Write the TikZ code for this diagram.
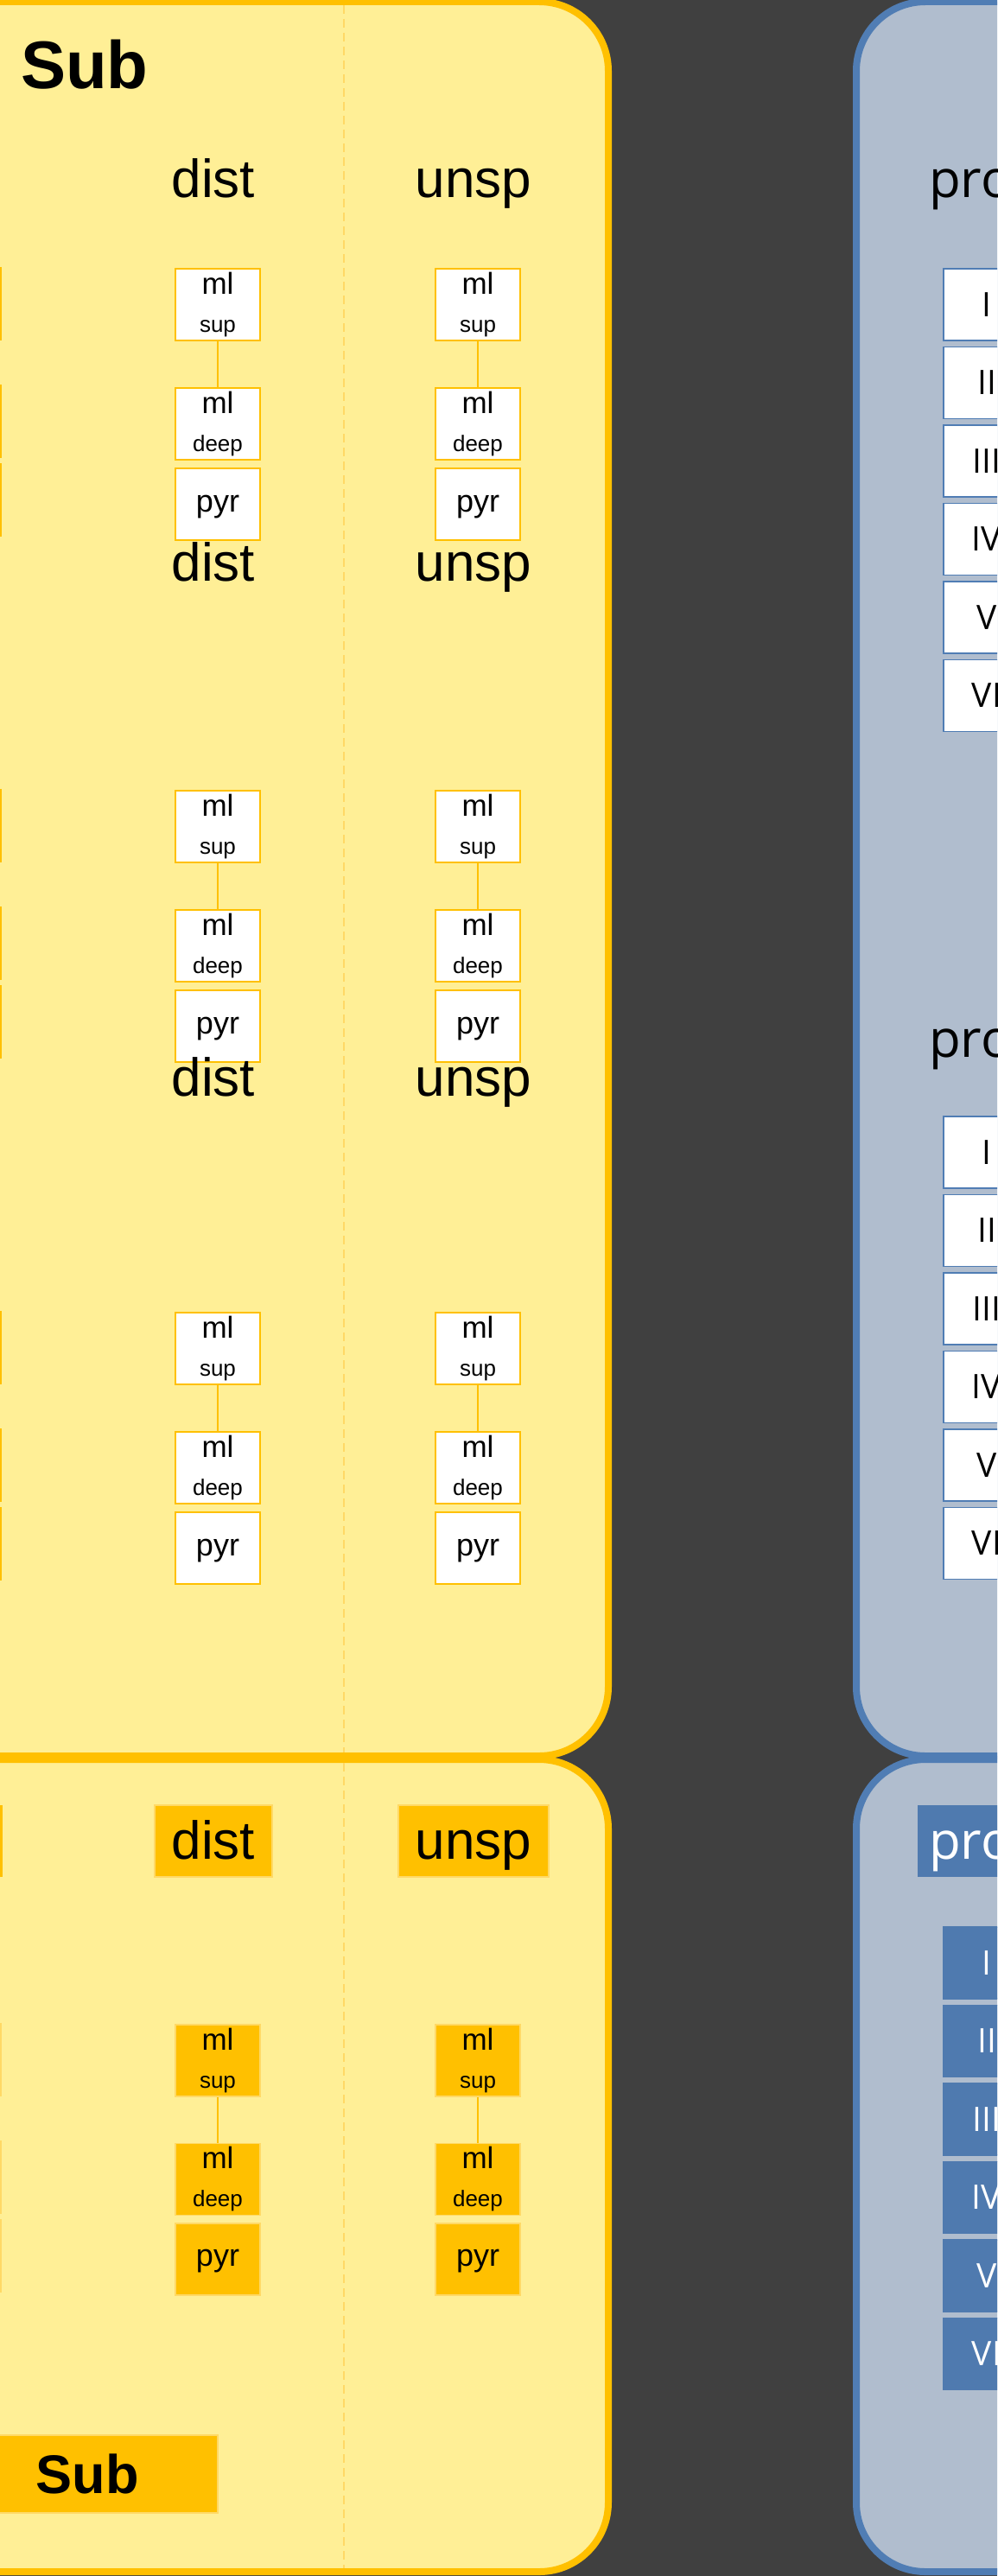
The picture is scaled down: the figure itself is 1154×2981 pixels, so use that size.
\documentclass[tikz,border=0pt]{standalone}
\usepackage{fontspec}
\setmainfont{Liberation Sans}
\newfontfamily\romfont{Open Sans}
\usetikzlibrary{positioning}

\definecolor{bgdark}{RGB}{64,64,64}
\definecolor{ypanel}{RGB}{255,239,150}
\definecolor{ygold}{RGB}{255,192,0}
\definecolor{ylite}{RGB}{255,217,102}
\definecolor{bpanel}{RGB}{176,189,206}
\definecolor{bline}{RGB}{80,125,180}
\definecolor{bfill}{RGB}{79,122,175}

\newcommand{\mltext}[1]{{\fontsize{35}{44}\selectfont ml}\\#1}

\begin{document}
\begin{tikzpicture}[x=1pt, y=-1pt,
	ypan/.style={draw=ygold, line width=8pt, fill=ypanel, rounded corners=80pt},
	bpan/.style={draw=bline, line width=8pt, fill=bpanel, rounded corners=80pt},
	ybox/.style={draw=ygold, line width=2pt, fill=white, minimum width=98pt, minimum height=83pt, inner sep=0pt},
	mlbox/.style={ybox, align=center, font=\fontsize{26}{44}\selectfont},
	pyrbox/.style={ybox, font=\fontsize{36}{36}\selectfont, text height=25pt, text depth=8pt},
	orange/.style={fill=ygold, draw=ylite, line width=1.5pt},
	lbl/.style={anchor=base, inner sep=0pt, font=\fontsize{62}{62}\selectfont},
	lblbox/.style={orange, minimum height=83pt, inner xsep=20pt, inner ysep=0pt, text height=45pt, text depth=4pt, font=\fontsize{62}{62}\selectfont},
	link/.style={draw=ygold, line width=2.5pt},
	sep/.style={draw=ylite, line width=1.5pt, dash pattern=on 10pt off 6pt},
	rombox/.style={draw=bline, line width=1.5pt, fill=white, minimum width=100pt, minimum height=83pt, inner sep=0pt, font=\romfont\fontsize{39}{39}\selectfont},
	prolbl/.style={anchor=base west, inner sep=0pt, font=\romfont\fontsize{60}{60}\selectfont},
	]
	\path[use as bounding box] (0,0) rectangle (1154,2981);
	\clip (0,0) rectangle (1154,2981);
	\fill[bgdark] (0,0) rectangle (1154,2981);

	\draw[ypan] (-200,2) rectangle (704,2032);
	\draw[ypan] (-200,2036) rectangle (704,2976);
	\draw[bpan] (991,2) rectangle (1400,2032);
	\draw[bpan] (991,2036) rectangle (1400,2976);
	\draw[sep] (398,6) -- (398,2028);
	\draw[sep] (398,2040) -- (398,2972);

	\node[anchor=base west, inner sep=0pt, font=\bfseries\fontsize{78}{78}\selectfont] (SubTop) at (24,103) {Sub};

	\foreach \sec/\lab/\top in {a/229/310, b/672/914, c/1268/1518} {
		\node[lbl] (dist\sec) at (247,\lab) {dist};
		\node[lbl] (unsp\sec) at (548,\lab) {unsp};
		\foreach \col/\cx in {L/252, R/553} {
			\node[mlbox, anchor=north] (sup\col\sec) at (\cx,\top) {\mltext{sup}};
			\node[mlbox, below=53pt of sup\col\sec] (deep\col\sec) {\mltext{deep}};
			\node[pyrbox, below=8pt of deep\col\sec] (pyr\col\sec) {pyr};
			\draw[link] (sup\col\sec) -- (deep\col\sec);
		}
		\draw[ybox] (-97,\top) rectangle +(98,83);
		\draw[ybox] (-97,\top+136) rectangle +(98,83);
		\draw[ybox] (-97,\top+227) rectangle +(98,83);
	}

	\node[lblbox] (distd) at (247,2130.5) {dist};
	\node[lblbox] (unspd) at (548,2130.5) {unsp};
	\fill[ygold] (-120,2089) rectangle (3,2172);
	\foreach \col/\cx in {L/252, R/553} {
		\node[mlbox, orange, anchor=north] (sup\col d) at (\cx,2342) {\mltext{sup}};
		\node[mlbox, orange, below=53pt of sup\col d] (deep\col d) {\mltext{deep}};
		\node[pyrbox, orange, below=8pt of deep\col d] (pyr\col d) {pyr};
		\draw[link] (sup\col d) -- (deep\col d);
	}
	\draw[orange] (-97,2342) rectangle +(98,83);
	\draw[orange] (-97,2478) rectangle +(98,83);
	\draw[orange] (-97,2569) rectangle +(98,83);
	\node[orange, minimum width=302pt, minimum height=90pt, inner sep=0pt, text height=45pt, text depth=0pt, font=\bfseries\fontsize{63}{63}\selectfont] (SubLow) at (101,2863) {Sub};

	\foreach \sec/\lab/\top in {a/228/310, b/1223/1291} {
		\node[prolbl] (pro\sec) at (1075,\lab) {pro};
		\foreach \r [count=\i from 0] in {I,II,III,IV,V,VI}
			\node[rombox, anchor=north] (rom\sec\i) at (1142,\top+\i*90.5) {\r};
	}

	\node[anchor=west, fill=bfill, text=white, minimum height=83pt, inner xsep=13pt, inner ysep=0pt, text width=150pt, align=left, text height=45pt, text depth=4pt, font=\romfont\fontsize{60}{60}\selectfont] (proc) at (1062,2130.5) {pro};
	\foreach \r [count=\i from 0] in {I,II,III,IV,V,VI}
		\node[rombox, fill=bfill, draw=bfill, text=white, anchor=north] (romc\i) at (1142,2229+\i*90.5) {\r};
\end{tikzpicture}
\end{document}
